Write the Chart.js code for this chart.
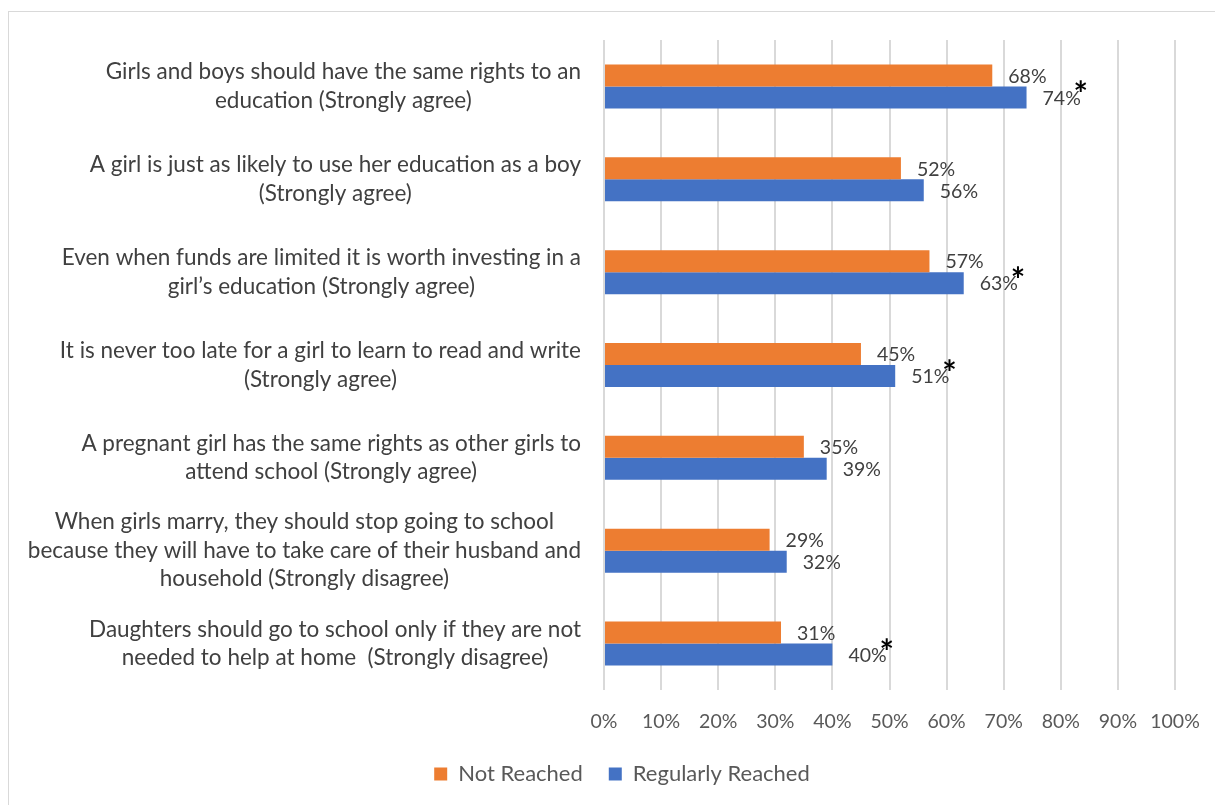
<!DOCTYPE html>
<html>
<head>
<meta charset="utf-8">
<script src="https://cdn.jsdelivr.net/npm/chart.js@4.4.1/dist/chart.umd.min.js"></script>
<style>
    body { margin: 0; background: #fff; }
    #chartBox {
        position: absolute;
        left: 8px;
        top: 11px;
        width: 1230px;
        height: 800px;
        border: 1px solid #d9d9d9;
        box-sizing: border-box;
    }
</style>
</head>
<body>
<div id="chartBox"><canvas id="attitudeChart"></canvas></div>
<script>
const statements = [
    ['Girls and boys should have the same rights to an', 'education (Strongly agree)'],
    ['A girl is just as likely to use her education as a boy', '(Strongly agree)'],
    ['Even when funds are limited it is worth investing in a', 'girl\u2019s education (Strongly agree)'],
    ['It is never too late for a girl to learn to read and write', '(Strongly agree)'],
    ['A pregnant girl has the same rights as other girls to', 'attend school (Strongly agree)'],
    ['When girls marry, they should stop going to school', 'because they will have to take care of their husband and', 'household (Strongly disagree)'],
    ['Daughters should go to school only if they are not', 'needed to help at home  (Strongly disagree)']
];
const notReached = [68, 52, 57, 45, 35, 29, 31];
const regularlyReached = [74, 56, 63, 51, 39, 32, 40];
// statements where the difference is significant get an asterisk
const significant = [true, false, true, true, false, false, true];
const percentTicks = [0, 10, 20, 30, 40, 50, 60, 70, 80, 90, 100];

const FONT = 'Lato, "Open Sans", sans-serif';

// category text: each block sits against the axis, its lines centred on each other
const statementLabels = {
    id: 'statementLabels',
    afterDraw(chart) {
        const ctx = chart.ctx;
        const yScale = chart.scales.y;
        const right = yScale.right - 23;
        const lineH = 28.5;
        ctx.save();
        ctx.font = '22.5px ' + FONT;
        ctx.fillStyle = '#404040';
        ctx.textAlign = 'center';
        ctx.textBaseline = 'middle';
        statements.forEach((lines, i) => {
            const widest = Math.max(...lines.map(l => ctx.measureText(l).width));
            const cx = right - widest / 2;
            const cy = yScale.getPixelForTick(i);
            lines.forEach((line, k) => {
                ctx.fillText(line, cx, cy + (k - (lines.length - 1) / 2) * lineH);
            });
        });
        ctx.restore();
    }
};

// percentage ticks under the value axis (drawn here so they are not clipped)
const percentLabels = {
    id: 'percentLabels',
    afterDraw(chart) {
        const ctx = chart.ctx;
        const xScale = chart.scales.x;
        ctx.save();
        ctx.font = '19.5px ' + FONT;
        ctx.fillStyle = '#595959';
        ctx.textAlign = 'center';
        ctx.textBaseline = 'middle';
        percentTicks.forEach(v => {
            ctx.fillText(v + '%', xScale.getPixelForValue(v), chart.chartArea.bottom + 32);
        });
        ctx.restore();
    }
};

// value labels at the end of each bar, plus the significance marks
const barLabels = {
    id: 'barLabels',
    afterDatasetsDraw(chart) {
        const ctx = chart.ctx;
        ctx.save();
        ctx.font = '19.5px ' + FONT;
        ctx.fillStyle = '#404040';
        ctx.textBaseline = 'middle';
        ctx.textAlign = 'left';
        chart.data.datasets.forEach((ds, di) => {
            chart.getDatasetMeta(di).data.forEach((bar, i) => {
                const text = ds.data[i] + '%';
                ctx.fillText(text, bar.x + 16, bar.y + 1);
                if (di === 1 && significant[i]) {
                    const w = ctx.measureText(text).width;
                    ctx.save();
                    ctx.font = 'bold 34px ' + FONT;
                    ctx.fillStyle = '#000';
                    ctx.textAlign = 'center';
                    ctx.fillText('*', bar.x + 16 + w, bar.y - 2);
                    ctx.restore();
                }
            });
        });
        ctx.restore();
    }
};

new Chart(document.getElementById('attitudeChart'), {
    type: 'bar',
    data: {
        labels: statements,
        datasets: [
            {
                label: 'Not Reached',
                data: notReached,
                backgroundColor: '#ED7D31',
                barPercentage: 1,
                categoryPercentage: 0.474
            },
            {
                label: 'Regularly Reached',
                data: regularlyReached,
                backgroundColor: '#4472C4',
                barPercentage: 1,
                categoryPercentage: 0.474
            }
        ]
    },
    options: {
        indexAxis: 'y',
        responsive: true,
        maintainAspectRatio: false,
        animation: false,
        layout: { padding: { top: 28, right: 62, bottom: 15, left: 60 } },
        plugins: {
            legend: {
                position: 'bottom',
                labels: {
                    boxWidth: 13,
                    boxHeight: 13,
                    padding: 26,
                    color: '#595959',
                    font: { family: FONT, size: 22 }
                }
            },
            tooltip: { enabled: false }
        },
        scales: {
            x: {
                min: 0,
                max: 100,
                afterFit(scale) { scale.height = 47; },
                ticks: { stepSize: 10, display: false },
                grid: { color: '#d9d9d9', lineWidth: 2, drawTicks: false },
                border: { display: false }
            },
            y: {
                afterFit(scale) { scale.width = 535; },
                ticks: { display: false },
                grid: { display: false, drawTicks: false },
                border: { display: false }
            }
        }
    },
    plugins: [barLabels, statementLabels, percentLabels]
});
</script>
</body>
</html>
